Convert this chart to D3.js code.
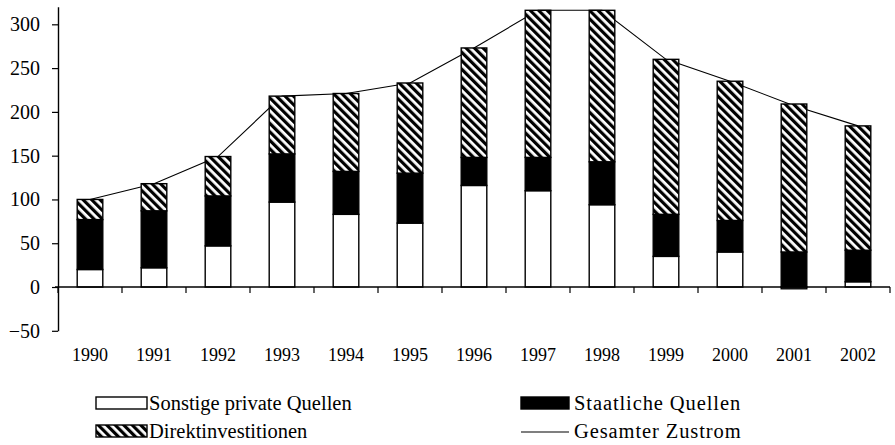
<!DOCTYPE html>
<html>
<head>
	<meta charset="utf-8">
	<script src="https://cdn.jsdelivr.net/npm/d3@7/dist/d3.min.js"></script>
	<title>Zustrom</title>
	<style type="text/css">
		body { margin: 0; background: #fff; }
		text { font-family: "Liberation Serif", "DejaVu Serif", serif; fill: #000; }
	</style>
</head>
<body>
	<script>
		// values
		var years = ['1990','1991','1992','1993','1994','1995','1996','1997','1998','1999','2000','2001','2002'];
		var sonstige = [20, 22, 47, 97, 83, 73, 116, 110, 94, 35, 40, -2, 6];
		var staatlich = [57, 65, 57, 55, 49, 57, 32, 38, 49, 48, 36, 40, 36];
		var direkt = [23, 31, 45, 66, 89, 103, 125, 168, 173, 177, 159, 169, 142];
		var gesamt = [100, 118, 149, 218, 221, 233, 273, 316, 316, 260, 235, 207, 184];
		var yTicks = [-50, 0, 50, 100, 150, 200, 250, 300];

		var svgWidth = 895;
		var svgHeight = 445;

		var svg = d3.select('body')
				.append('svg')
				.attr('width', svgWidth)
				.attr('height', svgHeight);

		// hatch for Direktinvestitionen
		var defs = svg.append('defs');
		var pat = defs.append('pattern')
			.attr('id', 'hatch')
			.attr('patternUnits', 'userSpaceOnUse')
			.attr('width', 6)
			.attr('height', 6)
			.attr('patternTransform', 'rotate(-45)');
		pat.append('rect').attr('width', 6).attr('height', 6).attr('fill', '#fff');
		pat.append('rect').attr('width', 3.2).attr('height', 6).attr('fill', '#000');

		var x = d3.scaleBand()
			.domain(years)
			.range([58, 890])
			.paddingInner(0.6)
			.paddingOuter(0.3);

		var y = d3.scaleLinear()
			.domain([-50, 320])
			.range([330.8, 6.8]);

		var table = years.map(function (yr, i) {
			return { year: yr, sonstige: sonstige[i], staatlich: staatlich[i], direkt: direkt[i] };
		});

		var stack = d3.stack()
			.keys(['sonstige', 'staatlich', 'direkt'])
			.offset(d3.stackOffsetDiverging);
		var series = stack(table);
		var fills = { sonstige: '#fff', staatlich: '#000', direkt: 'url(#hatch)' };

		// total line, behind the bars
		var line = d3.line()
			.x(function (d, i) { return x(years[i]) + x.bandwidth() / 2; })
			.y(function (d) { return y(d); });

		svg.append('path')
			.datum(gesamt)
			.attr('d', line)
			.attr('fill', 'none')
			.attr('stroke', '#000')
			.attr('stroke-width', 1.1);

		svg.selectAll('g.layer')
			.data(series)
			.enter()
			.append('g')
				.attr('class', 'layer')
				.attr('fill', function (s) { return fills[s.key]; })
			.selectAll('rect')
			.data(function (s) { return s; })
			.enter()
			.append('rect')
				.attr('x', function (d) { return x(d.data.year); })
				.attr('y', function (d) { return y(Math.max(d[0], d[1])); })
				.attr('width', x.bandwidth())
				.attr('height', function (d) { return Math.abs(y(d[0]) - y(d[1])); })
				.attr('stroke', '#000')
				.attr('stroke-width', 1.4);

		// y axis
		var yAxis = d3.axisLeft(y)
			.tickValues(yTicks)
			.tickSize(6)
			.tickSizeOuter(0)
			.tickPadding(12)
			.tickFormat(function (d) { return d < 0 ? '\u2212' + Math.abs(d) : d; });

		var gy = svg.append('g')
			.attr('transform', 'translate(58,0)')
			.call(yAxis);
		gy.select('.domain').attr('stroke-width', 1.4);
		gy.selectAll('.tick line').attr('stroke-width', 1.2);
		gy.selectAll('text')
			.style('font-family', '"Liberation Serif", serif')
			.style('font-size', '20px');

		// x axis at zero with ticks between categories
		var gx = svg.append('g');
		gx.append('line')
			.attr('x1', x.range()[0] - 3)
			.attr('x2', x.range()[1])
			.attr('y1', y(0))
			.attr('y2', y(0))
			.attr('stroke', '#000')
			.attr('stroke-width', 1.6);
		gx.selectAll('line.tk')
			.data(d3.range(years.length + 1))
			.enter()
			.append('line')
				.attr('class', 'tk')
				.attr('x1', function (i) { return x.range()[0] + i * x.step(); })
				.attr('x2', function (i) { return x.range()[0] + i * x.step(); })
				.attr('y1', y(0))
				.attr('y2', y(0) + 6)
				.attr('stroke', '#000')
				.attr('stroke-width', 1.2);

		svg.selectAll('text.year')
			.data(years)
			.enter()
			.append('text')
				.attr('class', 'year')
				.attr('x', function (d) { return x(d) + x.bandwidth() / 2; })
				.attr('y', 361)
				.attr('text-anchor', 'middle')
				.style('font-size', '18px')
				.text(function (d) { return d; });

		// legend
		var legend = [
			{ label: 'Sonstige private Quellen', type: 'sonstige', lx: 96, ly: 397 },
			{ label: 'Staatliche Quellen', type: 'staatlich', lx: 521, ly: 397 },
			{ label: 'Direktinvestitionen', type: 'direkt', lx: 96, ly: 425 },
			{ label: 'Gesamter Zustrom', type: 'line', lx: 521, ly: 425 }
		];

		var lg = svg.selectAll('g.legend')
			.data(legend)
			.enter()
			.append('g')
				.attr('class', 'legend')
				.attr('transform', function (d) { return 'translate(' + d.lx + ',' + d.ly + ')'; });

		lg.filter(function (d) { return d.type !== 'line'; })
			.append('rect')
				.attr('width', function (d) { return d.type === 'staatlich' ? 48 : 51; })
				.attr('height', 12)
				.attr('fill', function (d) { return fills[d.type]; })
				.attr('stroke', '#000')
				.attr('stroke-width', 1.4);

		lg.filter(function (d) { return d.type === 'line'; })
			.append('line')
				.attr('x1', 0)
				.attr('x2', 48)
				.attr('y1', 7)
				.attr('y2', 7)
				.attr('stroke', '#000')
				.attr('stroke-width', 1.1);

		lg.append('text')
			.attr('x', 53)
			.attr('y', 13)
			.style('font-size', '20.5px')
			.style('letter-spacing', function (d) { return d.lx > 300 ? '0.9px' : '0px'; })
			.text(function (d) { return d.label; });
	</script>
</body>
</html>
